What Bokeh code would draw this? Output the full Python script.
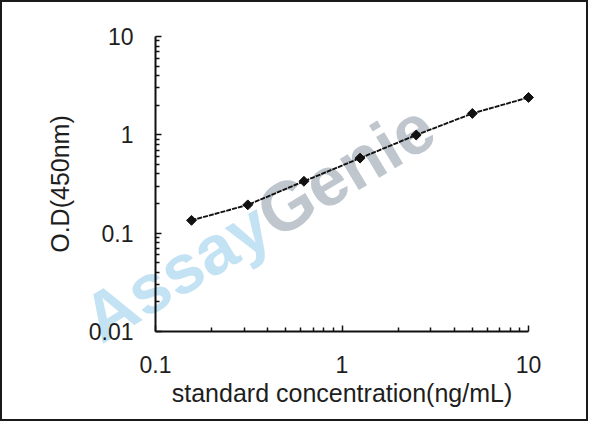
import math
from bokeh.plotting import figure
from bokeh.models import FixedTicker, CustomJSTickFormatter, Label
from bokeh.embed import file_html
from bokeh.resources import INLINE

# ---- data ----
concentration = [0.156, 0.3125, 0.625, 1.25, 2.5, 5, 10]
od_450 = [0.135, 0.194, 0.337, 0.58, 0.995, 1.65, 2.40]

x_ticks = [0.1, 1, 10]
x_tick_labels = ["0.1", "1", "10"]
y_ticks = [0.01, 0.1, 1, 10]
y_tick_labels = ["0.01", "0.1", "1", "10"]

x_title = "standard concentration(ng/mL)"
y_title = "O.D(450nm)"
wm_part1 = "Assay"
wm_part2 = "Genie"

FONT = "Liberation Sans"
TXT = "#1e1e1e"

# layout (pixels inside the figure); the frame covers the whole figure and
# both axes are pinned at x=0.1 / y=0.01 so that nothing gets clipped.
W, H = 588, 421
AXIS_X = 153           # screen x of x = 0.1
AXIS_TOP = 34          # screen y of y = 10
AXIS_BOT = 329         # screen y of y = 0.01
DEC_X = 186.5
x_lo, x_hi = x_ticks[0], x_ticks[-1]
y_lo, y_hi = y_ticks[0], y_ticks[-1]
DEC_Y = (AXIS_BOT - AXIS_TOP) / (math.log10(y_hi) - math.log10(y_lo))
x_start = 10 ** (math.log10(x_lo) - AXIS_X / DEC_X)
x_end = 10 ** (math.log10(x_lo) + (W - AXIS_X) / DEC_X)
y_end = 10 ** (math.log10(y_hi) + AXIS_TOP / DEC_Y)
y_start = 10 ** (math.log10(y_lo) - (H - AXIS_BOT) / DEC_Y)

p = figure(width=W, height=H, x_axis_type="log", y_axis_type="log",
           x_range=(x_start, x_end), y_range=(y_start, y_end),
           output_backend="svg", toolbar_location=None,
           min_border_left=0, min_border_right=0,
           min_border_top=0, min_border_bottom=0)
p.styles = {"border": "2px solid #1a1a1a"}
p.outline_line_color = None
p.xgrid.visible = False
p.ygrid.visible = False
p.background_fill_color = "white"
p.border_fill_color = "white"


def minor_for(ticks):
    out = []
    for t in ticks[:-1]:
        for k in range(2, 10):
            out.append(t * k)
    return out


fmt_code = ("const i = t.findIndex(v => Math.abs(Math.log10(v) - Math.log10(tick)) < 1e-6);"
            " return i >= 0 ? l[i] : '';")
p.xaxis.ticker = FixedTicker(ticks=x_ticks, minor_ticks=minor_for(x_ticks))
p.yaxis.ticker = FixedTicker(ticks=y_ticks, minor_ticks=minor_for(y_ticks))
p.xaxis.formatter = CustomJSTickFormatter(args=dict(t=x_ticks, l=x_tick_labels), code=fmt_code)
p.yaxis.formatter = CustomJSTickFormatter(args=dict(t=y_ticks, l=y_tick_labels), code=fmt_code)
p.xaxis.bounds = (x_lo, x_hi)
p.yaxis.bounds = (y_lo, y_hi)
p.yaxis.fixed_location = x_lo
p.xaxis.fixed_location = y_lo

for ax in (p.xaxis[0], p.yaxis[0]):
    ax.axis_line_color = "#111111"
    ax.axis_line_width = 2
    ax.major_tick_in = 6
    ax.major_tick_out = 0
    ax.minor_tick_in = 4
    ax.minor_tick_out = 0
    ax.major_tick_line_color = "#111111"
    ax.minor_tick_line_color = "#111111"
    ax.major_tick_line_width = 1.5
    ax.minor_tick_line_width = 1.5
    ax.major_label_text_font = FONT
    ax.major_label_text_font_size = "23px"
    ax.major_label_text_color = TXT
    ax.axis_label_text_font = FONT
    ax.axis_label_text_font_size = "25px"
    ax.axis_label_text_font_style = "normal"
    ax.axis_label_text_color = TXT

p.xaxis.axis_label = x_title
p.yaxis.axis_label = y_title
p.xaxis.major_label_standoff = 24
p.yaxis.major_label_standoff = 22
p.xaxis.axis_label_standoff = 3
p.yaxis.axis_label_standoff = 12

# ---- watermark (behind axes and data) ----
wm_size = 69
wm_angle = math.radians(31)
wm_x = 10 ** (math.log10(x_lo) + (87 - AXIS_X) / DEC_X)
wm_y = 10 ** (math.log10(y_lo) + (AXIS_BOT - 322) / DEC_Y)
adv = 2.946 * wm_size  # advance width of first part (bold sans)
lab1 = Label(x=wm_x, y=wm_y, text=wm_part1, angle=wm_angle,
             text_font=FONT, text_font_style="bold", text_font_size=f"{wm_size}px",
             text_color="#c3e2f3", text_align="left", text_baseline="alphabetic",
             level="underlay")
lab2 = Label(x=wm_x, y=wm_y, text=wm_part2, angle=wm_angle,
             x_offset=adv * math.cos(wm_angle), y_offset=adv * math.sin(wm_angle),
             text_font=FONT, text_font_style="bold", text_font_size=f"{wm_size}px",
             text_color="#bfc6cd", text_align="left", text_baseline="alphabetic",
             level="underlay")
p.add_layout(lab1)
p.add_layout(lab2)

# ---- series ----
r_line = p.line(concentration, od_450, line_color="#111111", line_width=1.9, line_dash="5 1")
r_pts = p.scatter(concentration, od_450, marker="square", angle=math.pi / 4, size=7,
                  fill_color="#111111", line_color="#111111")

open("out.html", "w").write(file_html(p, INLINE))
